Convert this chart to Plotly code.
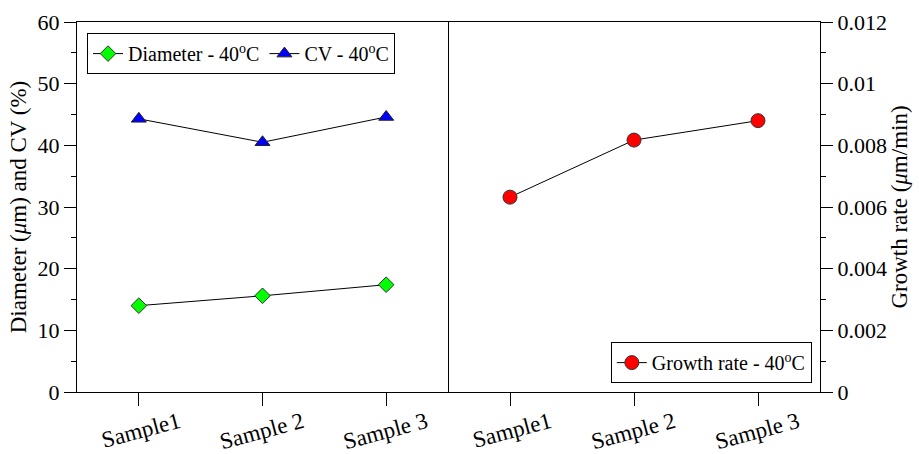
import plotly.graph_objects as go

samples = ["Sample1", "Sample 2", "Sample 3"]
diameter = [14.0, 15.6, 17.4]
cv = [44.3, 40.5, 44.6]
growth = [0.00632, 0.00817, 0.00880]

FONT = "Liberation Serif"
line_style = dict(color="black", width=1)

fig = go.Figure()
fig.add_trace(go.Scatter(x=samples, y=diameter, mode="lines+markers", name="Diameter - 40<sup>o</sup>C",
                         line=line_style, xaxis="x", yaxis="y", legend="legend",
                         marker=dict(symbol="diamond", size=12, color="#00FF00", line=dict(color="#333333", width=1))))
fig.add_trace(go.Scatter(x=samples, y=cv, mode="lines+markers", name="CV - 40<sup>o</sup>C",
                         line=line_style, xaxis="x", yaxis="y", legend="legend",
                         marker=dict(symbol="triangle-up", size=13, color="#0000FF", line=dict(color="#222222", width=1))))
fig.add_trace(go.Scatter(x=samples, y=growth, mode="lines+markers", name="Growth rate - 40<sup>o</sup>C",
                         line=line_style, xaxis="x2", yaxis="y2", legend="legend2",
                         marker=dict(symbol="circle", size=14, color="#FF0000", line=dict(color="#333333", width=1))))

split = 371 / 743
xcommon = dict(type="category", range=[-0.5, 2.5], showline=True, linecolor="black", linewidth=1,
               mirror=True, ticks="outside", ticklen=13, tickcolor="black", tickangle=-15,
               ticklabelshift=40, ticklabelstandoff=-6, automargin=False,
               tickfont=dict(family=FONT, size=23, color="black"), showgrid=False, zeroline=False)
fig.update_layout(
    width=919, height=454,
    margin=dict(l=77, r=99, t=22, b=62, autoexpand=False),
    paper_bgcolor="white", plot_bgcolor="white",
    template="none",
    font=dict(family=FONT, color="black", size=20),
    xaxis=dict(domain=[0, split], anchor="y", **xcommon),
    xaxis2=dict(domain=[split, 1], anchor="y2", **xcommon),
    yaxis=dict(anchor="x", range=[0, 60], dtick=10, showline=True, linecolor="black", linewidth=1,
               mirror=True, ticks="outside", ticklen=12, tickcolor="black", showgrid=False, zeroline=False,
               automargin=False, tickfont=dict(family=FONT, size=22, color="black"),
               minor=dict(dtick=5, ticks="outside", ticklen=5, tickcolor="black", showgrid=False),
               title=dict(text="Diameter (<i>μ</i>m) and CV (%)", font=dict(family=FONT, size=23), standoff=4)),
    yaxis2=dict(anchor="x2", side="right", range=[0, 0.012], dtick=0.002, showline=True, linecolor="black",
                linewidth=1, mirror=False, ticks="outside", ticklen=12, tickcolor="black", showgrid=False,
                zeroline=False, automargin=False, tickfont=dict(family=FONT, size=22, color="black"),
                minor=dict(dtick=0.001, ticks="outside", ticklen=5, tickcolor="black", showgrid=False),
                title=dict(text="Growth rate (<i>μ</i>m/min)", font=dict(family=FONT, size=23), standoff=4)),
    legend=dict(x=0.0135, y=0.97, xanchor="left", yanchor="top", orientation="h",
                bordercolor="black", borderwidth=1, bgcolor="white",
                font=dict(family=FONT, size=20, color="black")),
    legend2=dict(x=0.989, y=0.024, xanchor="right", yanchor="bottom",
                 bordercolor="black", borderwidth=1, bgcolor="white",
                 font=dict(family=FONT, size=20, color="black")),
)

fig.write_html("out.html")
